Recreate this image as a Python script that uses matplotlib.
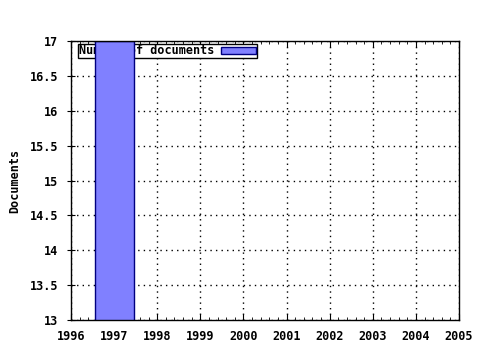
import matplotlib
matplotlib.use('Agg')
import matplotlib.pyplot as plt
from matplotlib.ticker import MultipleLocator

# data
years = [1997]
docs = [17]
xticks = list(range(1996, 2006))
yticks = [13, 13.5, 14, 14.5, 15, 15.5, 16, 16.5, 17]

plt.rcParams['font.family'] = 'DejaVu Sans Mono'
plt.rcParams['font.weight'] = 'bold'
plt.rcParams['font.size'] = 8.5

fig = plt.figure(figsize=(4.8, 3.5), dpi=100)
ax = fig.add_axes([71/480, 1-320/350, 388/480, 279/350])

bars = ax.bar(years, docs, width=0.9, color='#8080ff', edgecolor='#000080',
              linewidth=1, label='Number of documents', zorder=2)

ax.set_xlim(1996, 2005)
ax.set_ylim(13, 17)
ax.set_xticks(xticks)
ax.set_yticks(yticks)
ax.set_yticklabels(['%g' % v for v in yticks])
ax.xaxis.set_minor_locator(MultipleLocator(0.2))
ax.tick_params(axis='x', which='both', direction='in', top=True, length=4, pad=7)
ax.tick_params(axis='x', which='minor', length=2)
ax.tick_params(axis='y', which='major', direction='inout', length=6, pad=6)

ax.set_axisbelow(True)
ax.grid(True, color='black', linestyle=(0, (1, 3)), linewidth=1)
for s in ax.spines.values():
    s.set_linewidth(1)

ax.set_ylabel('Documents', fontweight='bold', labelpad=6)

leg = ax.legend(loc='upper left', bbox_to_anchor=(0.018, 0.99), markerfirst=False,
                fancybox=False, framealpha=1, edgecolor='black', borderpad=0.05,
                handlelength=3.0, handleheight=0.55, borderaxespad=0, handletextpad=0.6)
leg.get_frame().set_linewidth(1)
leg.set_zorder(1)

fig.savefig('out.png', dpi=100)
